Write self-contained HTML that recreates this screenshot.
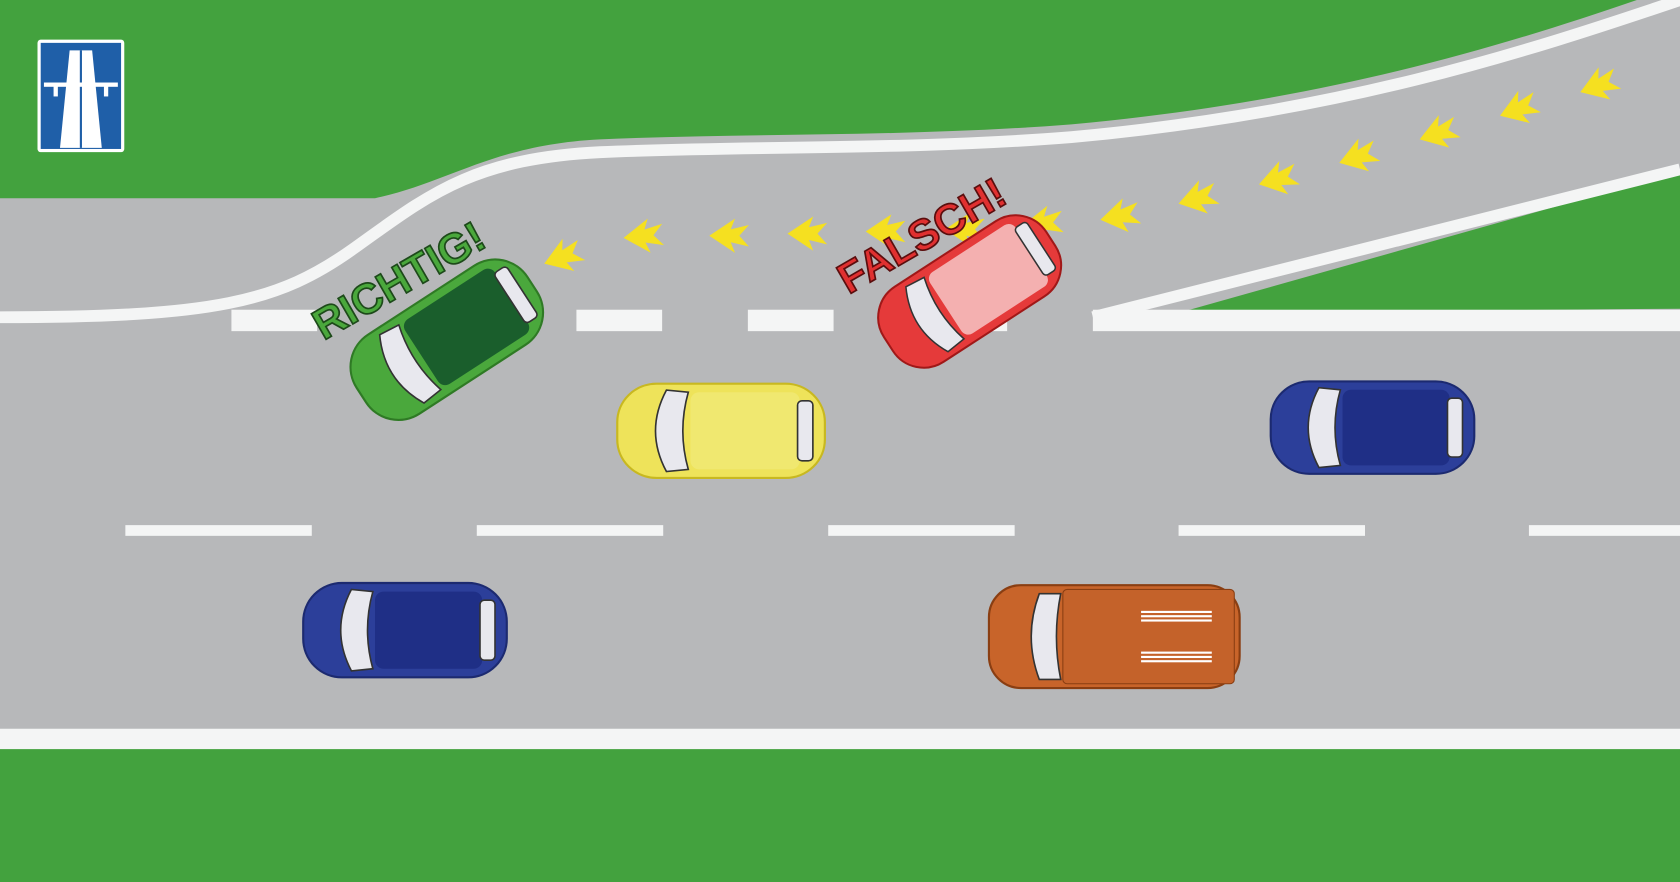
<!DOCTYPE html>
<html><head><meta charset="utf-8"><style>html,body{margin:0;padding:0;background:#43a23e;overflow:hidden}svg{display:block}</style></head>
<body>
<svg width="1680" height="882" viewBox="0 0 1568 823" preserveAspectRatio="none" xmlns="http://www.w3.org/2000/svg">
<defs>
<g id="arr"><path d="M0,0 L24,-16 L20,-6 L37,-10 L28,0 L37,10 L20,6 L24,16 Z" fill="#f5e020"/></g>
<g id="car">
 <rect x="-95" y="-44" width="190" height="88" rx="36" fill="var(--b)" stroke="var(--d)" stroke-width="2"/>
 <path d="M-50,-38 Q-70,0 -50,38 L-30,36 Q-40,0 -30,-36 Z" fill="#e8e8ee" stroke="#333" stroke-width="1.5"/>
 <rect x="-28" y="-36" width="100" height="72" rx="8" fill="var(--r)"/>
 <rect x="70" y="-28" width="14" height="56" rx="4" fill="#e8e8ee" stroke="#333" stroke-width="1.5"/>
</g>
</defs>
<rect width="1568" height="823" fill="#43a23e"/>
<path d="M0,185 L350,185 C420,170 460,135 560,130 C700,124 850,128 1000,116 C1250,93 1420,38 1568,-14 L1568,170 L1110,290 L0,290 Z" fill="#b7b8ba"/>
<rect x="0" y="288" width="1568" height="405" fill="#b7b8ba"/>
<path d="M1100,292 L1568,160 L1568,288 Z" fill="#43a23e"/>
<path d="M0,296 C200,296 260,282 330,232 C400,182 440,148 560,142 C700,136 850,140 1000,128 C1250,105 1420,50 1568,0" fill="none" stroke="#f4f5f5" stroke-width="11"/>
<path d="M1020,296 L1568,158" fill="none" stroke="#f4f5f5" stroke-width="11"/>
<rect x="1020" y="289" width="548" height="20" fill="#f4f5f5"/>
<rect x="216" y="289" width="80" height="20" fill="#f4f5f5"/>
<rect x="538" y="289" width="80" height="20" fill="#f4f5f5"/>
<rect x="698" y="289" width="80" height="20" fill="#f4f5f5"/>
<rect x="860" y="289" width="80" height="20" fill="#f4f5f5"/>
<rect x="0" y="680" width="1568" height="19" fill="#f4f5f5"/>
<g fill="#f4f5f5">
<rect x="117" y="490" width="174" height="10"/><rect x="445" y="490" width="174" height="10"/><rect x="773" y="490" width="174" height="10"/><rect x="1100" y="490" width="174" height="10"/><rect x="1427" y="490" width="141" height="10"/>
</g>
<rect x="35" y="37" width="81" height="105" rx="3" fill="#fff"/>
<rect x="38" y="40" width="75" height="99" fill="#1f5fa8"/>
<path d="M65,47 L86,47 L95,138 L56,138 Z" fill="#fff"/>
<rect x="74.5" y="47" width="2" height="91" fill="#1f5fa8"/>
<rect x="41" y="77" width="69" height="4" fill="#fff"/>
<rect x="50" y="78" width="4" height="12" fill="#fff"/><rect x="97" y="78" width="4" height="12" fill="#fff"/>
<g>
<use href="#arr" transform="translate(508,246) rotate(-20)"/>
<use href="#arr" transform="translate(582,222) rotate(-5)"/>
<use href="#arr" transform="translate(662,220)"/>
<use href="#arr" transform="translate(735,218)"/>
<use href="#arr" transform="translate(808,216)"/>
<use href="#arr" transform="translate(882,214)"/>
<use href="#arr" transform="translate(955,210) rotate(-5)"/>
<use href="#arr" transform="translate(1027,205) rotate(-10)"/>
<use href="#arr" transform="translate(1100,190) rotate(-15)"/>
<use href="#arr" transform="translate(1175,172) rotate(-15)"/>
<use href="#arr" transform="translate(1250,152) rotate(-18)"/>
<use href="#arr" transform="translate(1325,130) rotate(-18)"/>
<use href="#arr" transform="translate(1400,108) rotate(-20)"/>
<use href="#arr" transform="translate(1475,86) rotate(-20)"/>
</g>
<g style="--b:#4aa83c;--d:#2f7a25;--r:#1a5e2c" transform="translate(417,317) rotate(-33)"><use href="#car"/></g>
<g style="--b:#e53a3a;--d:#a01818;--r:#f4b0b0" transform="translate(905,272) rotate(-33) scale(0.95)"><use href="#car"/></g>
<g style="--b:#eee35a;--d:#c8b820;--r:#f0e870" transform="translate(673,402) scale(1.02,1)"><use href="#car"/></g>
<g style="--b:#2c3f9a;--d:#1c2a70;--r:#1f2f86" transform="translate(1281,399) scale(1.0,0.98)"><use href="#car"/></g>
<g style="--b:#2c3f9a;--d:#1c2a70;--r:#1f2f86" transform="translate(378,588)"><use href="#car"/></g>
<g transform="translate(1040,594)">
 <rect x="-117" y="-48" width="234" height="96" rx="30" fill="#c8642a" stroke="#8a3e12" stroke-width="2"/>
 <path d="M-70,-40 Q-85,0 -70,40 L-50,40 Q-58,0 -50,-40 Z" fill="#e8e8ee" stroke="#333" stroke-width="1.5"/>
 <rect x="-48" y="-44" width="160" height="88" rx="4" fill="#c4622a" stroke="#8a3e12"/>
 <g fill="#fff"><rect x="25" y="-24" width="66" height="2"/><rect x="25" y="-20" width="66" height="2"/><rect x="25" y="-16" width="66" height="2"/><rect x="25" y="14" width="66" height="2"/><rect x="25" y="18" width="66" height="2"/><rect x="25" y="22" width="66" height="2"/></g>
</g>
<text transform="translate(302,318) rotate(-30)" font-family="Liberation Sans, sans-serif" font-weight="bold" font-size="40" fill="#4aa83c" stroke="#1d4a1a" stroke-width="1.6">RICHTIG!</text>
<text transform="translate(792,275) rotate(-30)" font-family="Liberation Sans, sans-serif" font-weight="bold" font-size="40" fill="#e03030" stroke="#5a0e0e" stroke-width="1.6">FALSCH!</text>
</svg>
</body></html>
